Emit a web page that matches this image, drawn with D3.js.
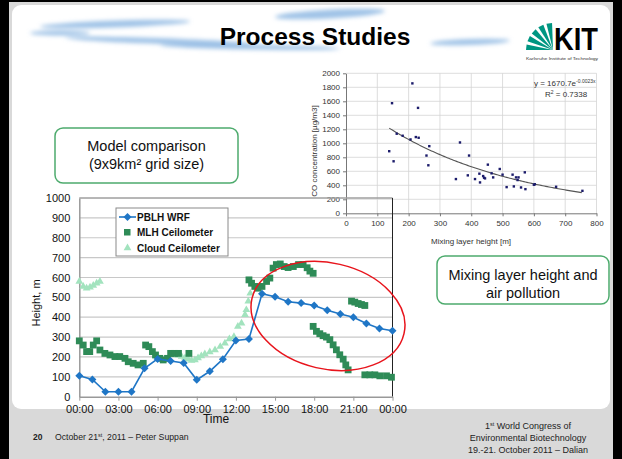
<!DOCTYPE html>
<html>
<head>
<meta charset="UTF-8">
<script src="https://d3js.org/d3.v7.min.js"></script>
<style>
  body { margin: 0; background: #000; }
  text { font-family: "Liberation Sans", Arial, sans-serif; }
</style>
</head>
<body>
<div id="slide"></div>
<script>
// ---- main chart data (hours since 00:00, height in m) ----
var wrfHour = [0, 1, 2, 3, 4, 5, 6, 7, 8, 9, 10, 11, 12, 13, 14, 15, 16, 17, 18, 19, 20, 21, 22, 23, 24];
var wrfHeight = [105, 87, 25, 25, 25, 143, 190, 180, 170, 85, 128, 189, 283, 290, 518, 503, 478, 471, 459, 435, 416, 400, 368, 343, 332];

var mlhHour = [0, 0.3, 0.56, 0.8, 1.07, 1.33, 1.58, 1.96, 2.35, 2.73, 3.1, 3.5, 3.75, 4.13, 4.5, 4.9,
  5.08, 5.33, 5.6, 5.84, 6.17, 6.43, 6.76, 7.0, 7.3, 7.6, 8.4,
  13.0, 13.2, 13.45, 13.7, 14.0, 14.35, 14.6, 14.85, 15.1, 15.4, 15.7, 16.0, 16.4, 16.8, 17.15, 17.46, 17.67, 17.92,
  17.92, 18.17, 18.43, 18.68, 18.94, 19.2, 19.45, 19.7, 19.96, 20.22, 20.42, 20.6,
  20.86, 21.11, 21.37, 21.62, 21.88,
  21.88, 22.26, 22.65, 23.03, 23.54, 23.92];
var mlhHeight = [281, 260, 227, 227, 260, 281, 235, 218, 210, 202, 202, 193, 176, 168, 160, 168,
  260, 252, 227, 210, 193, 185, 193, 218, 218, 218, 218,
  588, 571, 555, 546, 555, 580, 597, 647, 665, 668, 655, 650, 655, 665, 665, 649, 632, 621,
  354, 329, 317, 307, 300, 287, 261, 236, 211, 189, 160, 135,
  481, 476, 469, 464, 459,
  110, 110, 110, 105, 105, 98];

var cloudHour = [0, 0.3, 0.56, 0.82, 1.07, 1.33, 1.58,
  7.33, 7.6, 7.84, 8.1, 8.35, 8.6, 8.86, 9.1, 9.35, 9.62, 10.0, 10.4, 10.8, 11.16, 11.5, 11.85, 12.15, 12.43, 12.7, 12.8, 12.95, 13.1];
var cloudHeight = [580, 555, 546, 551, 560, 571, 580,
  210, 208, 202, 195, 188, 182, 185, 195, 205, 215, 225, 235, 252, 269, 290, 302, 353, 370, 412, 437, 480, 520];

var timeTicks = [0, 3, 6, 9, 12, 15, 18, 21, 24];
var timeLabels = ["00:00", "03:00", "06:00", "09:00", "12:00", "15:00", "18:00", "21:00", "00:00"];
var heightTicks = [0, 100, 200, 300, 400, 500, 600, 700, 800, 900, 1000];

// ---- scatter data: mixing layer height [m] vs CO [µg/m3] ----
var mixHeight = [212, 147, 230, 162, 181, 206, 223, 232, 138, 152, 266, 257, 263, 364, 393, 351, 389, 412, 426, 428,
  438, 441, 444, 453, 465, 470, 491, 500, 513, 532, 536, 543, 548, 551, 559, 571, 573, 600, 603, 671, 755];
var coConc = [1856, 1573, 1506, 1137, 1108, 1055, 1089, 1079, 887, 743, 959, 825, 686, 1012, 825, 489, 542, 489, 566, 441,
  532, 508, 499, 695, 571, 513, 633, 552, 374, 552, 384, 513, 475, 513, 369, 585, 345, 408, 415, 379, 321];
var mixTicks = [0, 100, 200, 300, 400, 500, 600, 700, 800];
var coTicks = [0, 200, 400, 600, 800, 1000, 1200, 1400, 1600, 1800, 2000];
// fitted trend shown on the slide: y = 1670.7 e^(-0.0023x)
var fitA = 1670.7, fitB = -0.0023, fitRange = [138, 755];

var W = 622, H = 459;
var svg = d3.select("#slide").append("svg").attr("width", W).attr("height", H);
var font = "'Liberation Sans', Arial, sans-serif";

// slide background
svg.append("rect").attr("width", W).attr("height", H).attr("fill", "#000");
svg.append("rect").attr("x", 9).attr("y", 2).attr("width", 604).attr("height", 457).attr("fill", "#d9d9d9");
svg.append("rect").attr("x", 12).attr("y", 5).attr("width", 598).attr("height", 404).attr("rx", 9)
  .attr("fill", "#fff");

// blurred blue brush strokes behind the title
var defs = svg.append("defs");
defs.append("filter").attr("id", "blur").attr("x", "-20%").attr("y", "-200%").attr("width", "140%").attr("height", "500%")
  .append("feGaussianBlur").attr("stdDeviation", 2.2);
var strokes = [[115, 24, 75, 3.5, -2], [160, 41, 95, 3, 2], [330, 14, 55, 4.5, -3], [250, 47, 90, 2.5, 1], [470, 42, 40, 3, -2], [60, 33, 30, 2.5, 0]];
svg.append("g").attr("filter", "url(#blur)").selectAll("ellipse").data(strokes).enter().append("ellipse")
  .attr("cx", function (d) { return d[0]; })
  .attr("cy", function (d) { return d[1]; })
  .attr("rx", function (d) { return d[2]; })
  .attr("ry", function (d) { return d[3]; })
  .attr("transform", function (d) { return "rotate(" + d[4] + "," + d[0] + "," + d[1] + ")"; })
  .attr("fill", "#8fb9e3").attr("opacity", 0.85);

// title
svg.append("text").attr("x", 315).attr("y", 45).attr("text-anchor", "middle")
  .style("font-size", "24.5px").style("font-weight", "bold").attr("fill", "#000").text("Process Studies");

// KIT logo
var logo = svg.append("g");
var fanStart = [0, 19, 38, 57, 76];
fanStart.forEach(function (a) {
  var a0 = (180 - a) * Math.PI / 180, a1 = (180 - a - 12) * Math.PI / 180;
  var cx = 553, cy = 50, r = 27;
  logo.append("path")
    .attr("d", "M" + cx + "," + cy + "L" + (cx + r * Math.cos(a0)) + "," + (cy - r * Math.sin(a0)) +
      "L" + (cx + r * Math.cos(a1)) + "," + (cy - r * Math.sin(a1)) + "Z")
    .attr("fill", "#009682");
});
logo.append("text").attr("x", 554).attr("y", 50).attr("textLength", 44).attr("lengthAdjust", "spacingAndGlyphs")
  .style("font-size", "31px").style("font-weight", "bold").attr("fill", "#000").text("KIT");
logo.append("text").attr("x", 526).attr("y", 60).attr("textLength", 72).attr("lengthAdjust", "spacingAndGlyphs")
  .style("font-size", "4px").attr("fill", "#333").text("Karlsruhe Institute of Technology");

// ---------- scatter plot ----------
var sx = d3.scaleLinear().domain([0, 800]).range([346, 596.5]);
var sy = d3.scaleLinear().domain([0, 2000]).range([213.3, 73.3]);
var sc = svg.append("g");
sc.append("g").selectAll("line").data(coTicks.slice(1)).enter().append("line")
  .attr("x1", sx(0)).attr("x2", sx(800)).attr("y1", function (d) { return sy(d); }).attr("y2", function (d) { return sy(d); })
  .attr("stroke", "#d4d4d4").attr("stroke-width", 0.8);
sc.append("g").selectAll("line").data(mixTicks.slice(1)).enter().append("line")
  .attr("y1", sy(0)).attr("y2", sy(2000)).attr("x1", function (d) { return sx(d); }).attr("x2", function (d) { return sx(d); })
  .attr("stroke", "#d4d4d4").attr("stroke-width", 0.8);
sc.append("g").attr("transform", "translate(0," + sy(0) + ")")
  .call(d3.axisBottom(sx).tickValues(mixTicks).tickFormat(d3.format("d")).tickSize(3).tickSizeOuter(0))
  .call(function (g) {
    g.select(".domain").attr("stroke", "#777");
    g.selectAll(".tick line").attr("stroke", "#777");
    g.selectAll("text").style("font-size", "8px").style("font-family", font).attr("fill", "#333").attr("dy", "0.9em");
  });
sc.append("g").attr("transform", "translate(" + sx(0) + ",0)")
  .call(d3.axisLeft(sy).tickValues(coTicks).tickFormat(d3.format("d")).tickSize(3).tickSizeOuter(0))
  .call(function (g) {
    g.select(".domain").attr("stroke", "#777");
    g.selectAll(".tick line").attr("stroke", "#777");
    g.selectAll("text").style("font-size", "8px").style("font-family", font).attr("fill", "#333");
  });
var fitLine = d3.line().x(function (d) { return sx(d); }).y(function (d) { return sy(fitA * Math.exp(fitB * d)); });
sc.append("path").datum(d3.range(fitRange[0], fitRange[1] + 1, 5)).attr("d", fitLine)
  .attr("fill", "none").attr("stroke", "#555").attr("stroke-width", 1.1);
sc.append("g").selectAll("rect").data(mixHeight).enter().append("rect")
  .attr("x", function (d) { return sx(d) - 1.2; })
  .attr("y", function (d, i) { return sy(coConc[i]) - 1.2; })
  .attr("width", 2.4).attr("height", 2.4).attr("fill", "#1c1c6b");
sc.append("text").attr("x", 471).attr("y", 244).attr("text-anchor", "middle")
  .style("font-size", "8px").attr("fill", "#333").text("Mixing layer height [m]");
sc.append("text").attr("transform", "translate(317,151) rotate(-90)").attr("text-anchor", "middle")
  .style("font-size", "8px").attr("fill", "#333").text("CO concentration [µg/m3]");
var eq = sc.append("text").attr("x", 534).attr("y", 86).style("font-size", "8px").attr("fill", "#333");
eq.append("tspan").text("y = 1670.7e");
eq.append("tspan").attr("dy", -3).style("font-size", "5px").text("-0.0023x");
var r2 = sc.append("text").attr("x", 545).attr("y", 97).style("font-size", "8px").attr("fill", "#333");
r2.append("tspan").text("R");
r2.append("tspan").attr("dy", -3).style("font-size", "5px").text("2");
r2.append("tspan").attr("dy", 3).text(" = 0.7338");

// ---------- text boxes ----------
function textBox(x, y, w, h, lines, y0) {
  svg.append("rect").attr("x", x).attr("y", y).attr("width", w).attr("height", h).attr("rx", 8)
    .attr("fill", "#fff").attr("stroke", "#4dab6d").attr("stroke-width", 1.5);
  lines.forEach(function (t, i) {
    svg.append("text").attr("x", x + w / 2).attr("y", y0 + i * 18).attr("text-anchor", "middle")
      .style("font-size", "14.5px").attr("fill", "#111").text(t);
  });
}
textBox(55, 128, 183, 55, ["Model comparison", "(9x9km² grid size)"], 151);
textBox(437, 256, 172, 48, ["Mixing layer height and", "air pollution"], 280);

// ---------- main time series chart ----------
var x = d3.scaleLinear().domain([0, 24]).range([79.3, 392.5]);
var y = d3.scaleLinear().domain([0, 1000]).range([396.7, 198]);
var ch = svg.append("g");

ch.append("g").selectAll("line").data(heightTicks.slice(1)).enter().append("line")
  .attr("x1", x(0)).attr("x2", x(24)).attr("y1", function (d) { return y(d); }).attr("y2", function (d) { return y(d); })
  .attr("stroke", "#c8c8c8").attr("stroke-width", 1.2);
ch.append("line").attr("x1", x(0)).attr("x2", x(24)).attr("y1", y(1000)).attr("y2", y(1000)).attr("stroke", "#8a8a8a");
ch.append("line").attr("x1", x(24)).attr("x2", x(24)).attr("y1", y(1000)).attr("y2", y(0)).attr("stroke", "#222");

ch.append("g").attr("transform", "translate(0," + y(0) + ")")
  .call(d3.axisBottom(x).tickValues(timeTicks).tickFormat(function (d, i) { return timeLabels[i]; }).tickSize(4).tickSizeOuter(0))
  .call(function (g) {
    g.select(".domain").attr("stroke", "#999").attr("stroke-width", 1.5);
    g.selectAll(".tick line").attr("stroke", "#999");
    g.selectAll("text").style("font-size", "11px").style("font-family", font).attr("fill", "#111").attr("dy", "0.85em");
  });
ch.append("g").attr("transform", "translate(" + x(0) + ",0)")
  .call(d3.axisLeft(y).tickValues(heightTicks).tickFormat(d3.format("d")).tickSize(0).tickPadding(9))
  .call(function (g) {
    g.select(".domain").attr("stroke", "#999").attr("stroke-width", 1.5);
    g.selectAll("text").style("font-size", "11px").style("font-family", font).attr("fill", "#111");
  });
ch.append("text").attr("x", 216).attr("y", 423).attr("text-anchor", "middle")
  .style("font-size", "12px").attr("fill", "#111").text("Time");
ch.append("text").attr("transform", "translate(40,303) rotate(-90)").attr("text-anchor", "middle")
  .style("font-size", "11px").attr("fill", "#111").text("Height, m");

var tri = d3.symbol().type(d3.symbolTriangle).size(26);
var diamond = "M0,-4L4,0L0,4L-4,0Z";

ch.append("g").selectAll("path").data(cloudHour).enter().append("path")
  .attr("d", tri)
  .attr("transform", function (d, i) { return "translate(" + x(d) + "," + y(cloudHeight[i]) + ")"; })
  .attr("fill", "#a2e3be");
ch.append("g").selectAll("rect").data(mlhHour).enter().append("rect")
  .attr("x", function (d) { return x(d) - 3.4; })
  .attr("y", function (d, i) { return y(mlhHeight[i]) - 3.4; })
  .attr("width", 6.8).attr("height", 6.8).attr("fill", "#2e8b57");
var wrfLine = d3.line().x(function (d) { return x(d); }).y(function (d, i) { return y(wrfHeight[i]); });
ch.append("path").datum(wrfHour).attr("d", wrfLine).attr("fill", "none").attr("stroke", "#1f76c6").attr("stroke-width", 1.6);
ch.append("g").selectAll("path").data(wrfHour).enter().append("path")
  .attr("d", diamond)
  .attr("transform", function (d, i) { return "translate(" + x(d) + "," + y(wrfHeight[i]) + ")"; })
  .attr("fill", "#1f76c6");

// legend
var lg = ch.append("g").attr("transform", "translate(116,208)");
lg.append("rect").attr("width", 112).attr("height", 48).attr("fill", "#fff").attr("stroke", "#8a8a8a");
lg.append("line").attr("x1", 3).attr("x2", 20).attr("y1", 9).attr("y2", 9).attr("stroke", "#1f76c6").attr("stroke-width", 1.6);
lg.append("path").attr("d", diamond).attr("transform", "translate(11.5,9)").attr("fill", "#1f76c6");
lg.append("rect").attr("x", 8).attr("y", 21).attr("width", 6.5).attr("height", 6.5).attr("fill", "#2e8b57");
lg.append("path").attr("d", tri).attr("transform", "translate(11.5,40)").attr("fill", "#a2e3be");
var legendNames = ["PBLH WRF", "MLH Ceilometer", "Cloud Ceilometer"];
lg.selectAll("text.lab").data(legendNames).enter().append("text").attr("class", "lab")
  .attr("x", 21).attr("y", function (d, i) { return 12.5 + i * 15.8; })
  .style("font-size", "10px").style("font-weight", "bold").attr("fill", "#111").text(function (d) { return d; });

// red highlight ellipse
svg.append("ellipse").attr("cx", 328).attr("cy", 316).attr("rx", 78).attr("ry", 53)
  .attr("transform", "rotate(13,328,316)")
  .attr("fill", "none").attr("stroke", "#e8141c").attr("stroke-width", 1.5);

// footer
svg.append("text").attr("x", 33).attr("y", 440).style("font-size", "8.5px").style("font-weight", "bold").attr("fill", "#222").text("20");
var ft = svg.append("text").attr("x", 55).attr("y", 440).style("font-size", "8.7px").attr("fill", "#222");
ft.append("tspan").text("October 21");
ft.append("tspan").attr("dy", -3).style("font-size", "5.5px").text("st");
ft.append("tspan").attr("dy", 3).text(", 2011 – Peter Suppan");
var fr = svg.append("g").style("font-size", "9px").attr("fill", "#222").attr("text-anchor", "middle");
var f1 = fr.append("text").attr("x", 528).attr("y", 429);
f1.append("tspan").text("1");
f1.append("tspan").attr("dy", -3).style("font-size", "5.5px").text("st");
f1.append("tspan").attr("dy", 3).text(" World Congress of");
fr.append("text").attr("x", 528).attr("y", 441).text("Environmental Biotechnology");
fr.append("text").attr("x", 528).attr("y", 453).text("19.-21. October 2011 – Dalian");
</script>
</body>
</html>
